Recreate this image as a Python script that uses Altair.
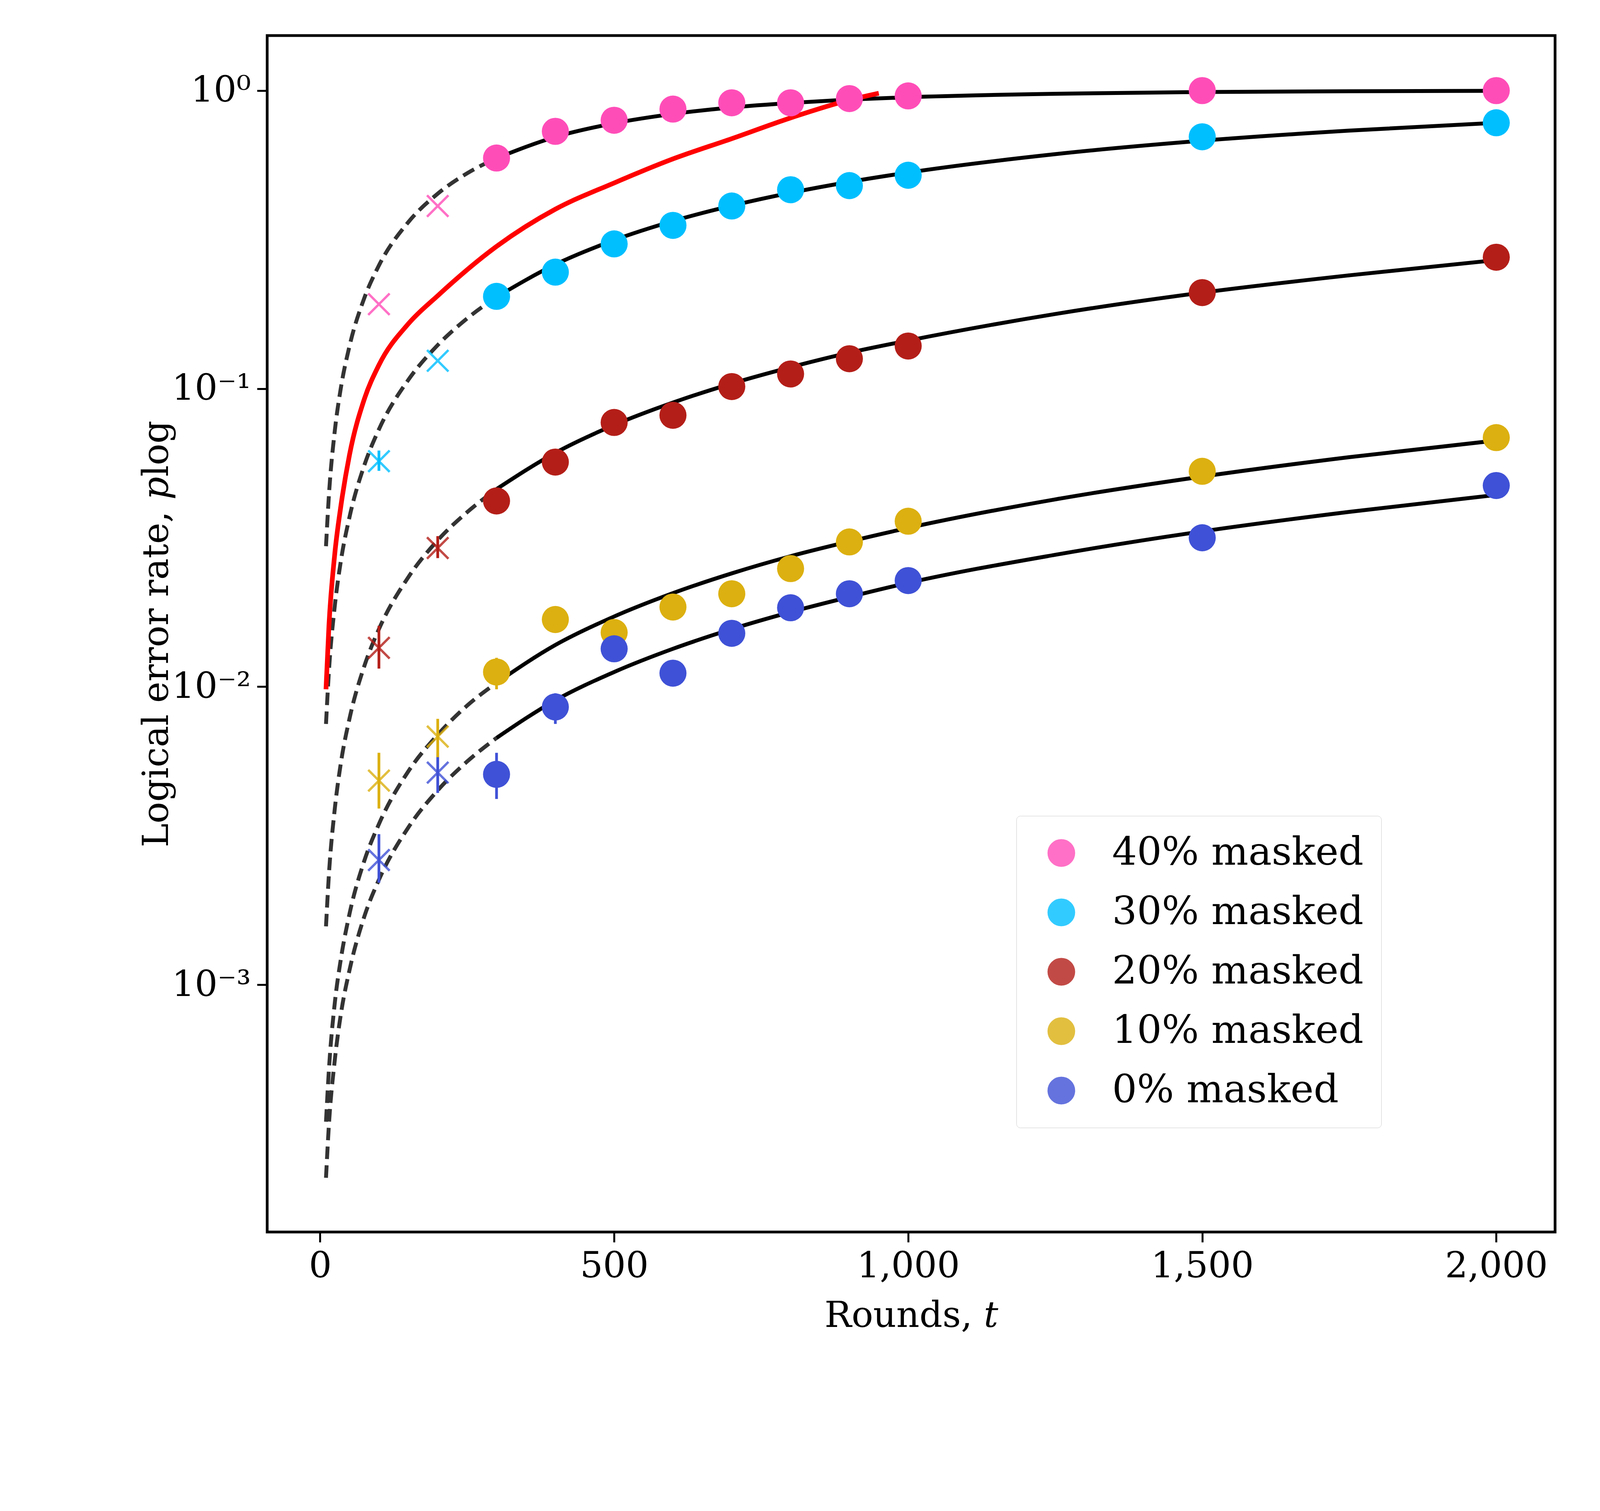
import altair as alt
import pandas as pd

SERIES = ["40% masked", "30% masked", "20% masked", "10% masked", "0% masked"]
COLORS = ["#FF4DB8", "#00BFFF", "#B41E18", "#DCB010", "#3F51D6"]

# measured points (circles) at t = 300..1000, 1500, 2000
T_POINTS = [300, 400, 500, 600, 700, 800, 900, 1000, 1500, 2000]
P_40 = [0.594, 0.73, 0.795, 0.867, 0.91, 0.91, 0.94, 0.96, 1.0, 1.0]
P_30 = [0.204, 0.246, 0.306, 0.353, 0.41, 0.465, 0.48, 0.52, 0.70, 0.78]
P_20 = [0.042, 0.0567, 0.077, 0.0814, 0.1016, 0.112, 0.126, 0.139, 0.21, 0.276]
P_10 = [0.0112, 0.0168, 0.0152, 0.0185, 0.0205, 0.0249, 0.0306, 0.0359, 0.0528, 0.0685]
P_0 = [0.00508, 0.00855, 0.0134, 0.0111, 0.0151, 0.0184, 0.0205, 0.0227, 0.0316, 0.0473]

# early rounds (crosses)
T_CROSS = [100, 200]
C_40 = [0.192, 0.41]
C_30 = [0.0571, 0.124]
C_20 = [0.0135, 0.0292]
C_10 = [0.00484, 0.0068]
C_0 = [0.00262, 0.00515]

# error bars: series, t, low, high
ERRS = [
    ("0% masked", 100, 0.0022, 0.0032), ("0% masked", 200, 0.0044, 0.0060),
    ("0% masked", 300, 0.0042, 0.0060), ("0% masked", 400, 0.0075, 0.0095),
    ("10% masked", 100, 0.0039, 0.0060), ("10% masked", 200, 0.0058, 0.0078),
    ("10% masked", 300, 0.0098, 0.0125), ("20% masked", 100, 0.0115, 0.0160),
    ("20% masked", 200, 0.0270, 0.0320), ("30% masked", 100, 0.0530, 0.0620),
]

# fitted curves
T_DASH = [10, 15, 25, 35, 50, 75, 100, 150, 200, 250, 300]
D_40 = [0.0296, 0.044, 0.0723, 0.0998, 0.139, 0.201, 0.259, 0.362, 0.451, 0.528, 0.593]
D_30 = [0.0075, 0.0113, 0.0187, 0.0262, 0.0371, 0.0552, 0.073, 0.107, 0.140, 0.172, 0.203]
D_20 = [0.00157, 0.00235, 0.0039, 0.0055, 0.00782, 0.0117, 0.0156, 0.0233, 0.031, 0.0385, 0.046]
D_10 = [0.000347, 0.00052, 0.00087, 0.00121, 0.00173, 0.0026, 0.00346, 0.0052, 0.0069, 0.00864, 0.0103]
D_0 = [0.000225, 0.00034, 0.00056, 0.00079, 0.00112, 0.00169, 0.00225, 0.00337, 0.00449, 0.00561, 0.00673]

T_SOLID = [300, 400, 500, 600, 700, 800, 900, 1000, 1250, 1500, 1750, 2000]
S_40 = [0.593, 0.699, 0.777, 0.835, 0.878, 0.909, 0.933, 0.950, 0.976, 0.989, 0.995, 0.998]
S_30 = [0.203, 0.261, 0.315, 0.365, 0.411, 0.454, 0.494, 0.531, 0.612, 0.679, 0.734, 0.780]
S_20 = [0.046, 0.0609, 0.0755, 0.0898, 0.104, 0.118, 0.132, 0.145, 0.178, 0.21, 0.240, 0.270]
S_10 = [0.0103, 0.0138, 0.0172, 0.0206, 0.024, 0.0274, 0.0307, 0.0341, 0.0425, 0.0507, 0.0589, 0.0670]
S_0 = [0.00673, 0.0090, 0.0112, 0.0134, 0.0156, 0.0178, 0.0200, 0.0223, 0.0277, 0.0332, 0.0386, 0.044]

T_RED = [10, 15, 25, 35, 50, 75, 100, 150, 200, 300, 400, 500, 600, 700, 800, 900, 950]
P_RED = [0.0098, 0.016, 0.028, 0.04, 0.06, 0.092, 0.12, 0.165, 0.205, 0.30, 0.40, 0.49, 0.59, 0.69, 0.81, 0.93, 0.98]


def long(ts, lists):
    rows = []
    for name, vals in zip(SERIES, lists):
        for t, v in zip(ts, vals):
            rows.append({"t": t, "p": v, "series": name})
    return pd.DataFrame(rows)


points = long(T_POINTS, [P_40, P_30, P_20, P_10, P_0])
crosses = long(T_CROSS, [C_40, C_30, C_20, C_10, C_0])
dashed = long(T_DASH, [D_40, D_30, D_20, D_10, D_0])
solid = long(T_SOLID, [S_40, S_30, S_20, S_10, S_0])
errs = pd.DataFrame(ERRS, columns=["series", "t", "lo", "hi"])
red = pd.DataFrame({"t": T_RED, "p": P_RED})

x = alt.X("t:Q", title="Rounds, 𝑡",
          scale=alt.Scale(domain=[-90, 2100], nice=False, zero=False),
          axis=alt.Axis(values=[0, 500, 1000, 1500, 2000], grid=False))
y = alt.Y("p:Q", title="Logical error rate, 𝑝log",
          scale=alt.Scale(type="log", domain=[1.48e-4, 1.53], nice=False),
          axis=alt.Axis(values=[1, 0.1, 0.01, 0.001], grid=False,
                        labelExpr="datum.value >= 1 ? '10⁰' : datum.value >= 0.1 ? '10⁻¹' : datum.value >= 0.01 ? '10⁻²' : '10⁻³'"))
color = alt.Color("series:N", scale=alt.Scale(domain=SERIES, range=COLORS),
                  sort=SERIES, title=None,
                  legend=alt.Legend(orient="none", legendX=1918, legendY=1997,
                                    symbolType="circle", symbolSize=4800,
                                    labelFontSize=100, labelFont="DejaVu Serif",
                                    rowPadding=52, symbolOffset=20, labelOffset=80,
                                    padding=45, strokeColor="#cccccc", fillColor="white",
                                    cornerRadius=10, labelLimit=1200))

dash_layer = alt.Chart(dashed).mark_line(color="#333333", strokeWidth=10, strokeDash=[32, 16],
                                         interpolate="monotone").encode(x=x, y=y, detail="series:N")
solid_layer = alt.Chart(solid).mark_line(color="black", strokeWidth=10, interpolate="monotone").encode(
    x=x, y=y, detail="series:N")
red_layer = alt.Chart(red).mark_line(color="red", strokeWidth=12, interpolate="monotone").encode(x=x, y=y)
err_layer = alt.Chart(errs).mark_rule(strokeWidth=7).encode(
    x=x, y=alt.Y("lo:Q"), y2="hi:Q", color=color)
cross_layer = alt.Chart(crosses).mark_point(
    shape="M-1,-1L1,1M1,-1L-1,1", filled=False, size=3000, strokeWidth=6, opacity=0.8).encode(
    x=x, y=y, color=color)
point_layer = alt.Chart(points).mark_circle(size=4800, opacity=1).encode(x=x, y=y, color=color)

chart = alt.layer(dash_layer, solid_layer, red_layer, err_layer, cross_layer, point_layer).properties(
    width=3297, height=3062, autosize=alt.AutoSizeParams(type="none"),
    padding={"left": 676, "top": 83, "right": 60, "bottom": 400}
).configure_view(stroke="black", strokeWidth=7).configure_axis(
    labelFont="DejaVu Serif", titleFont="DejaVu Serif", labelFontSize=92, titleFontSize=92,
    titleFontWeight="normal", labelColor="black", titleColor="black", labelLimit=1000,
    domain=False, tickColor="black", tickWidth=5, tickSize=26, labelPadding=16, titlePadding=36
)

chart.save("out.html", embed_options={"renderer": "svg", "actions": False})
